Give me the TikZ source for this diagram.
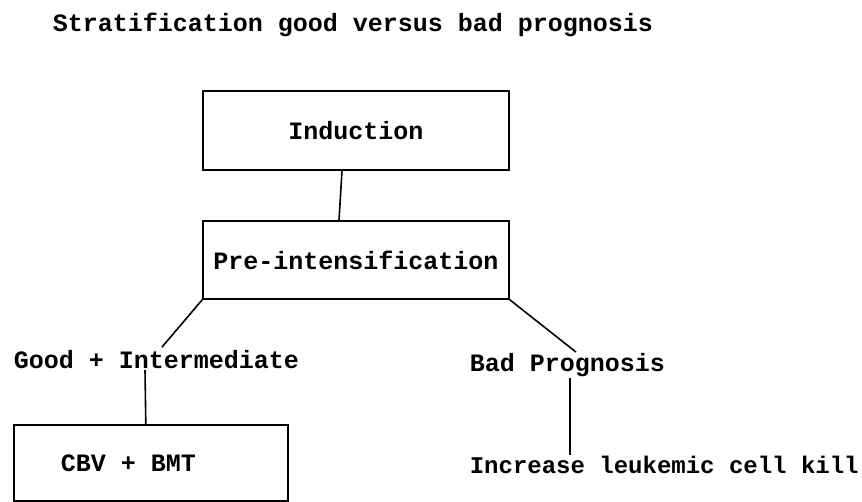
\documentclass[tikz,border=0pt]{standalone}
\usepackage{fontspec}
\setmonofont{Liberation Mono}
\usetikzlibrary{positioning}

\begin{document}
\begin{tikzpicture}[
  x=1pt,y=-1pt,
  line width=1.6pt,
  every node/.style={font=\ttfamily\bfseries\fontsize{25}{30}\selectfont},
  box/.style={draw,rectangle,inner sep=0pt,align=center},
  lbl/.style={inner sep=0pt,anchor=base west}]
\useasboundingbox (0,0) rectangle (862,502);
\node[lbl] (title) at (52,32) {Stratification good versus bad prognosis};
\node[box,minimum width=306pt,minimum height=79pt] (ind) at (356,130.5) {Induction};
\node[box,minimum width=306pt,minimum height=78pt] (pre) at (356,260) {Pre-intensification};
\node[lbl] (good) at (13,369) {Good + Intermediate};
\node[lbl] (bad) at (469,372) {Bad Prognosis};
\node[box,anchor=north west,minimum height=76pt,inner xsep=47pt] (cbv) at (13,424)
  {\makebox[180pt][l]{CBV + BMT}};
\node[lbl,font=\ttfamily\bfseries\fontsize{24}{29}\selectfont] (kill) at (469,473) {Increase leukemic cell kill};
\draw ([xshift=-14pt]ind.south) -- ([xshift=-17pt]pre.north);
\draw (pre.south west) -- ([shift={(149pt,3pt)}]good.north west);
\draw (pre.south east) -- ([shift={(107pt,1pt)}]bad.north west);
\draw ([xshift=132pt]good.south west) -- ([xshift=-5pt]cbv.north);
\draw ([xshift=101pt]bad.south west) -- ([xshift=101pt]kill.north west);
\end{tikzpicture}
\end{document}
